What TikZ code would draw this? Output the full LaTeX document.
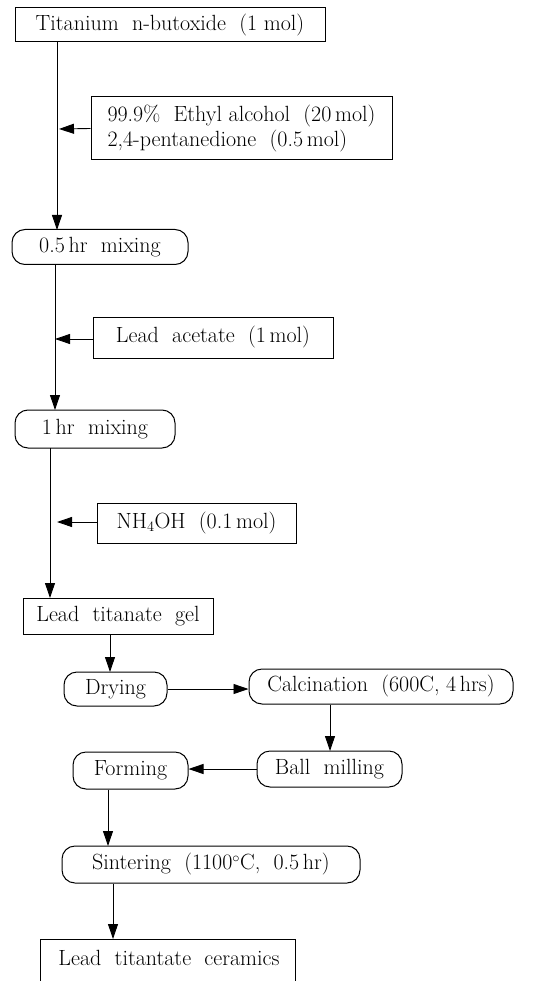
\documentclass[tikz,border=0pt]{standalone}
\usetikzlibrary{arrows.meta}
\begin{document}
\begin{tikzpicture}[x=1pt,y=-1pt,
  font=\fontsize{22}{25}\selectfont,
  sqbox/.style={draw, line width=1pt, inner sep=0pt, align=center},
  rdbox/.style={draw, line width=1pt, inner sep=0pt, rounded corners=13pt, align=center},
  flow/.style={line width=0.9pt, -{Triangle[length=15pt,width=10pt]}}]
\useasboundingbox (0,0) rectangle (556,981);

% nodes (positions in pixel units)
\node[sqbox, minimum width=310pt, minimum height=34pt] (ti) at (170,25) {Titanium\ \ n-butoxide\ \ (1\ mol)};
\node[sqbox, minimum width=301pt, minimum height=63pt, align=left] (eth) at (241.5,128.5)
  {99.9\%\ \ Ethyl alcohol\ \ (20\,mol)\\2,4-pentanedione\ \ (0.5\,mol)};
\node[rdbox, minimum width=176pt, minimum height=35pt] (m1) at (100,247) {0.5\,hr\ \ mixing};
\node[sqbox, minimum width=240pt, minimum height=41pt] (pb) at (213,337.5) {Lead\ \ acetate\ \ (1\,mol)};
\node[rdbox, minimum width=160pt, minimum height=38pt] (m2) at (95,429) {1\,hr\ \ mixing};
\node[sqbox, minimum width=199pt, minimum height=40pt] (nh) at (196.5,523) {NH$_4$OH\ \ (0.1\,mol)};
\node[sqbox, minimum width=190pt, minimum height=36pt] (gel) at (118,616) {Lead\ \ titanate\ \ gel};
\node[rdbox, minimum width=103pt, minimum height=34pt] (dry) at (115.5,689) {Drying};
\node[rdbox, minimum width=264pt, minimum height=35pt] (cal) at (381,686.5) {Calcination\ \ (600C, 4\,hrs)};
\node[rdbox, minimum width=145pt, minimum height=36pt] (ball) at (329.5,769) {Ball\ \ milling};
\node[rdbox, minimum width=115pt, minimum height=37pt] (form) at (130.5,770.5) {Forming};
\node[rdbox, minimum width=298pt, minimum height=37pt] (sin) at (211,864.5) {Sintering\ \ (1100$^\circ$C,\ \ 0.5\,hr)};
\node[inner sep=0pt] (cer) at (169,958) {Lead\ \ titantate\ \ ceramics};
\draw[line width=1pt] (40,981) -- (40,939) -- (295,939) -- (295,981);
\coordinate (certop) at (113,939);

% main vertical flow
\coordinate (a1) at (57,42);
\coordinate (a1e) at (57,230);
\coordinate (j1) at (57,129);
\draw[flow] (a1) -- (a1e);
\draw[flow] (eth.west) -- ([xshift=2pt]j1);

\coordinate (a2) at (55,264.5);
\coordinate (a2e) at (55,410);
\coordinate (j2) at (55,339);
\draw[flow] (a2) -- (a2e);
\draw[flow] (pb.west |- j2) -- (j2);

\coordinate (a3) at (50,448);
\coordinate (a3e) at (50,598);
\coordinate (j3) at (50,522);
\draw[flow] (a3) -- (a3e);
\draw[flow] (nh.west |- j3) -- ([xshift=7pt]j3);

% lower flow
\draw[flow] (gel.south -| 110,0) -- (110,672);
\draw[flow] (dry.east) -- (cal.west |- dry.east);
\draw[flow] (cal.south -| 330,0) -- (330,751);
\draw[flow] (ball.west) -- (form.east |- ball.west);
\draw[flow] (form.south -| 108,0) -- (108,846);
\draw[flow] (sin.south -| 113,0) -- (certop);
\end{tikzpicture}
\end{document}
